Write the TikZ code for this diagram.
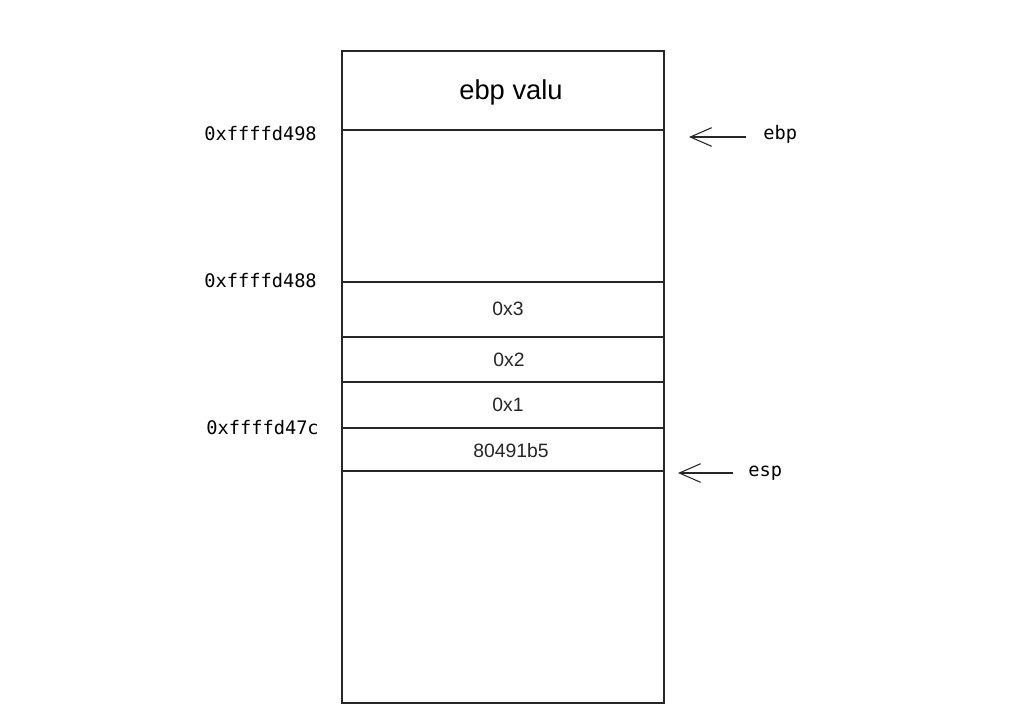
\documentclass[tikz,border=0pt]{standalone}
\usepackage{fontspec}
\setmainfont{Liberation Sans}
\newfontfamily\monof{DejaVu Sans Mono}
\usetikzlibrary{arrows.meta}
\begin{document}
\begin{tikzpicture}[x=0.75pt,y=-0.75pt,
  stackline/.style={line width=0.9pt, draw=black!85},
  celltext/.style={font=\fontsize{14.5}{16}\selectfont, text=black!85, inner sep=0pt},
  addr/.style={font=\monof\fontsize{14}{16}\selectfont, text=black, anchor=east, inner sep=0pt},
  reglabel/.style={font=\monof\fontsize{14}{16}\selectfont, text=black, anchor=west, inner sep=0pt},
  ptr/.style={line width=0.8pt, draw=black!85, -{Straight Barb[length=16pt,width=14pt,line width=0.8pt]}}
]
\useasboundingbox (0,0) rectangle (1034,726);
\fill[white] (0,0) rectangle (1034,726);
% stack frame outline
\draw[stackline] (342,51) rectangle (664,703);
% separators
\coordinate (l1a) at (342,130); \coordinate (l1b) at (664,130);
\coordinate (l2a) at (342,282); \coordinate (l2b) at (664,282);
\coordinate (l3a) at (342,337); \coordinate (l3b) at (664,337);
\coordinate (l4a) at (342,382); \coordinate (l4b) at (664,382);
\coordinate (l5a) at (342,428); \coordinate (l5b) at (664,428);
\coordinate (l6a) at (342,471); \coordinate (l6b) at (664,471);
\foreach \i in {1,...,6} \draw[stackline] (l\i a) -- (l\i b);
% cell texts
\node[celltext, font=\fontsize{20.5}{22}\selectfont, text=black] (ebpval) at (511,92) {ebp valu};
\node[celltext] (c3) at (508,309) {0x3};
\node[celltext] (c2) at (509,360) {0x2};
\node[celltext] (c1) at (508,405) {0x1};
\node[celltext] (ret) at (511,451) {80491b5};
% addresses
\node[addr] (a498) at (317,134) {0xffffd498};
\node[addr] (a488) at (317,281) {0xffffd488};
\node[addr] (a47c) at (319,428) {0xffffd47c};
% register pointers
\node[reglabel] (ebp) at (763,134) {ebp};
\node[reglabel] (esp) at (748,473) {esp};
\coordinate (ebpS) at (746,137);
\coordinate (ebpT) at (689,137);
\coordinate (espS) at (733,473);
\coordinate (espT) at (678,473);
\draw[ptr] (ebpS) -- (ebpT);
\draw[ptr] (espS) -- (espT);
\end{tikzpicture}
\end{document}
